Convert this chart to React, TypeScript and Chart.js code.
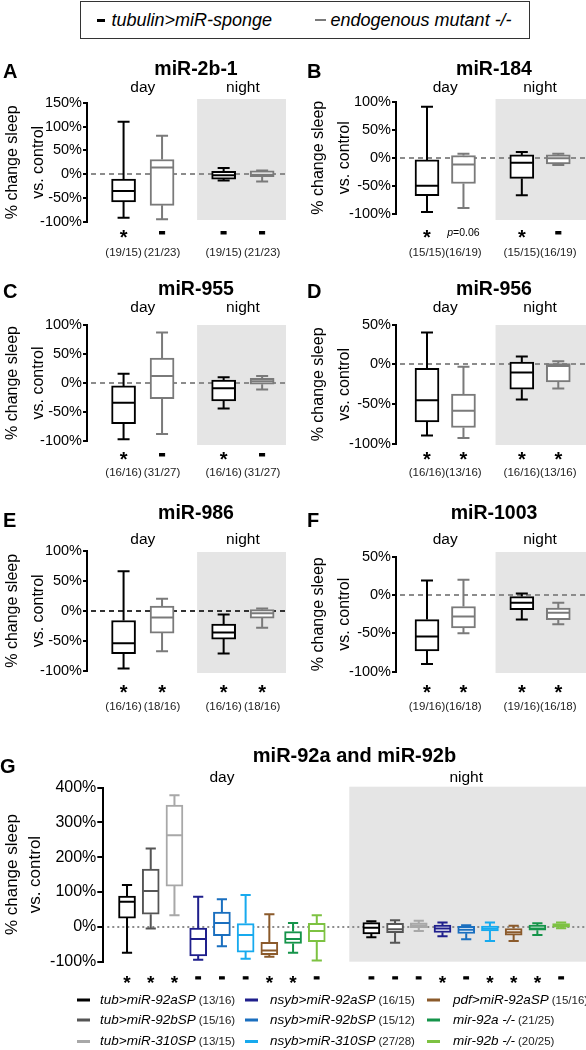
import { useEffect, useRef } from 'react';
import { Chart, registerables } from 'chart.js';

Chart.register(...registerables);

const FONT = '"Liberation Sans", Arial, Helvetica, sans-serif';
Chart.defaults.font.family = FONT;

// ---------------- DATA ----------------
const AF_GENOTYPES = ['tubulin>miR-sponge', 'endogenous mutant -/-'];
const PHASES = ['day', 'night'];
const SPONGE_COLOR = '#000000';
const MUTANT_COLOR = '#7a7a7a';
// Box order in panels A-F: day sponge, day mutant, night sponge, night mutant
// Each row: [min, q1, median, q3, max]  (% change sleep vs. control)
const A_STATS = [
  [-91, -58, -35, -10, 110],
  [-94, -65, 14, 31, 81],
  [-13, -10, -2, 6, 13],
  [-15, -5, -1, 7, 8],
];
const A_SIG = ['*', '-', '-', '-'];
const A_N = ['(19/15)', '(21/23)', '(19/15)', '(21/23)'];

const B_STATS = [
  [-97, -68, -50, -4, 91],
  [-90, -46, -12, 4, 7],
  [-67, -37, -9, 5, 10],
  [-13, -11, -1, 5, 7],
];
const B_SIG = ['*', 'p=0.06', '*', '-'];
const B_N = ['(15/15)', '(16/19)', '(15/15)', '(16/19)'];

const C_STATS = [
  [-97, -70, -34, -5, 16],
  [-88, -27, 12, 43, 87],
  [-44, -31, -9, 5, 10],
  [-11, -2, 3, 8, 12],
];
const C_SIG = ['*', '-', '*', '-'];
const C_N = ['(16/16)', '(31/27)', '(16/16)', '(31/27)'];

const D_STATS = [
  [-89, -72, -45, -5, 40],
  [-92, -79, -58, -37, -3],
  [-44, -31, -10, 3, 10],
  [-30, -22, -2, 1, 4],
];
const D_SIG = ['*', '*', '*', '*'];
const D_N = ['(16/16)', '(13/16)', '(16/16)', '(13/16)'];

const E_STATS = [
  [-96, -71, -54, -16, 66],
  [-67, -37, -11, 8, 20],
  [-71, -47, -36, -22, -6],
  [-28, -12, -4, 2, 4],
];
const E_SIG = ['*', '*', '*', '*'];
const E_N = ['(16/16)', '(18/16)', '(16/16)', '(18/16)'];

const F_STATS = [
  [-90, -73, -54, -32, 19],
  [-50, -43, -28, -15, 20],
  [-32, -19, -10, -2, 2],
  [-38, -32, -23, -17, -10],
];
const F_SIG = ['*', '*', '*', '*'];
const F_N = ['(19/16)', '(16/18)', '(19/16)', '(16/18)'];

const G_GENOTYPES = [
  'tub>miR-92aSP', 'tub>miR-92bSP', 'tub>miR-310SP',
  'nsyb>miR-92aSP', 'nsyb>miR-92bSP', 'nsyb>miR-310SP',
  'pdf>miR-92aSP', 'mir-92a -/-', 'mir-92b -/-',
];
const G_N = ['(13/16)', '(15/16)', '(13/15)', '(16/15)', '(15/12)', '(27/28)', '(15/16)', '(21/25)', '(20/25)'];
const G_COLORS = ['#000000', '#555555', '#a8a8a8', '#1f1f8c', '#1a6fbf', '#17aaee', '#8b5a2b', '#15944a', '#7dc242'];
const G_DAY_STATS = [
  [-75, 25, 72, 88, 120],
  [-5, 36, 103, 166, 225],
  [33, 117, 263, 350, 378],
  [-95, -84, -35, -4, 86],
  [-56, -26, 11, 42, 79],
  [-92, -73, -24, 9, 91],
  [-86, -80, -68, -45, 36],
  [-75, -48, -35, -14, 11],
  [-97, -43, -12, 10, 33],
];
const G_NIGHT_STATS = [
  [-30, -21, -3, 12, 16],
  [-46, -17, -7, 10, 19],
  [-12, -3, 4, 11, 17],
  [-27, -16, -5, 5, 12],
  [-36, -19, -9, 1, 4],
  [-41, -12, -6, 2, 12],
  [-41, -24, -16, -5, 3],
  [-24, -10, -5, 5, 10],
  [-4, -1, 5, 9, 12],
];
const G_DAY_SIG = ['*', '*', '*', '-', '-', '-', '*', '*', '-'];
const G_NIGHT_SIG = ['-', '-', '-', '*', '-', '*', '*', '*', '-'];

// ---------------- LAYOUT ----------------
const AF_SLOTS = [1, 2, 3.6, 4.6];
const G_SLOTS = [1, 2, 3, 4, 5, 6, 7, 8, 9, 11.3, 12.3, 13.3, 14.3, 15.3, 16.3, 17.3, 18.3, 19.3];

const LEFT = { left: 0, width: 296, axisX: 87, plotRight: 286, xMin: 0.05, xMax: 5.22, shadeFrom: 2.91, letterX: 3, titleX: 196 };
const RIGHT = { left: 306, width: 280, axisX: 396, plotRight: 586, xMin: 0.15, xMax: 5.36, shadeFrom: 2.88, letterX: 307, titleX: 494 };
const ROW1 = { top: 55, height: 210, letterY: 77.5, titleY: 74.5, phaseY: 92, shadeTop: 99, shadeBottom: 220, sigY: 233, nY: 253 };
const ROW2 = { top: 276, height: 205, letterY: 298, titleY: 295, phaseY: 312, shadeTop: 325, shadeBottom: 445, sigY: 455, nY: 473 };
const ROW3 = { top: 496, height: 222, letterY: 527, titleY: 519, phaseY: 544, shadeTop: 552, shadeBottom: 673, sigY: 688, nY: 707 };

type Spec = any;

function afPanel(letter: string, title: string, stats: number[][], sig: string[], n: string[], col: any, row: any,
  yMin: number, yMax: number, plotTop: number, plotBottom: number, zeroColor: string): Spec {
  return {
    letter, title, stats, sig, nLabels: n,
    colors: [SPONGE_COLOR, MUTANT_COLOR, SPONGE_COLOR, MUTANT_COLOR],
    positions: AF_SLOTS,
    groups: [[0, 1], [2, 3]],
    yMin, yMax, step: 50,
    canvas: { left: col.left, top: row.top, width: col.width, height: row.height },
    axisX: col.axisX, plotRight: col.plotRight, plotTop, plotBottom,
    xMin: col.xMin, xMax: col.xMax, shadeFrom: col.shadeFrom,
    shadeTop: row.shadeTop, shadeBottom: row.shadeBottom,
    letterX: col.letterX, letterY: row.letterY, titleX: col.titleX, titleY: row.titleY,
    phaseY: row.phaseY, sigY: row.sigY, nY: row.nY,
    zeroColor, zeroDash: [5, 4],
    barThickness: 24, capRatio: 0.5,
    tickSize: 14.5, tickLength: 4, axisTitleSize: 16, axisTitleLH: 1.6, axisTitlePad: 0,
    markerSize: 20, titleSize: 19.5, legend: false,
  };
}

const PANELS: Spec[] = [
  afPanel('A', 'miR-2b-1', A_STATS, A_SIG, A_N, LEFT, ROW1, -100, 150, 102.7, 222, '#8c8c8c'),
  afPanel('B', 'miR-184', B_STATS, B_SIG, B_N, RIGHT, ROW1, -100, 100, 101.7, 213.7, '#8c8c8c'),
  afPanel('C', 'miR-955', C_STATS, C_SIG, C_N, LEFT, ROW2, -100, 100, 325, 441, '#8c8c8c'),
  afPanel('D', 'miR-956', D_STATS, D_SIG, D_N, RIGHT, ROW2, -100, 50, 324.5, 444.3, '#8c8c8c'),
  afPanel('E', 'miR-986', E_STATS, E_SIG, E_N, LEFT, ROW3, -100, 100, 550.7, 671, '#333333'),
  afPanel('F', 'miR-1003', F_STATS, F_SIG, F_N, RIGHT, ROW3, -100, 50, 556.7, 671.7, '#8c8c8c'),
  {
    letter: 'G', title: 'miR-92a and miR-92b',
    stats: G_DAY_STATS.concat(G_NIGHT_STATS),
    sig: G_DAY_SIG.concat(G_NIGHT_SIG),
    nLabels: null,
    colors: G_COLORS.concat(G_COLORS),
    positions: G_SLOTS,
    groups: [[0, 8], [9, 17]],
    yMin: -100, yMax: 400, step: 100,
    canvas: { left: 0, top: 740, width: 586, height: 310 },
    axisX: 103.3, plotRight: 586, plotTop: 787.7, plotBottom: 961.5,
    xMin: 0, xMax: 20.35, shadeFrom: 10.37, shadeTop: 786.7, shadeBottom: 961.7,
    letterX: 0, letterY: 773, titleX: 354.5, titleY: 762,
    phaseY: 782, sigY: 978, nY: 0,
    zeroColor: '#8c8c8c', zeroDash: [2, 3],
    barThickness: 17, capRatio: 0.6,
    tickSize: 16, tickLength: 6, axisTitleSize: 17, axisTitleLH: 1.35, axisTitlePad: 1,
    markerSize: 19, titleSize: 20, legend: true,
  },
];

const G_LEGEND_COLS = [{ sw: 77, tx: 100 }, { sw: 245, tx: 270 }, { sw: 427, tx: 453 }];
const G_LEGEND_ROWS = [1000, 1020, 1041.5];

// ---------------- DRAWING ----------------
function drawMarker(ctx: CanvasRenderingContext2D, text: string, cx: number, cy: number, size: number) {
  ctx.fillStyle = '#000';
  ctx.strokeStyle = '#000';
  ctx.textBaseline = 'alphabetic';
  if (text === '*') {
    ctx.font = `bold ${size}px ${FONT}`;
    ctx.textAlign = 'center';
    ctx.fillText('*', cx, cy + 0.57 * size);
  } else if (text === '-') {
    ctx.font = `bold ${size}px ${FONT}`;
    ctx.textAlign = 'center';
    ctx.lineWidth = 1;
    ctx.fillText('-', cx, cy + 0.26 * size);
    ctx.strokeText('-', cx, cy + 0.26 * size);
  } else if (text.startsWith('p=')) {
    const s = 10.5;
    ctx.font = `italic ${s}px ${FONT}`;
    const w1 = ctx.measureText('p').width;
    ctx.font = `${s}px ${FONT}`;
    const rest = text.slice(1);
    const w2 = ctx.measureText(rest).width;
    const x0 = cx - (w1 + w2) / 2;
    ctx.textAlign = 'left';
    ctx.textBaseline = 'middle';
    ctx.font = `italic ${s}px ${FONT}`;
    ctx.fillText('p', x0, cy);
    ctx.font = `${s}px ${FONT}`;
    ctx.fillText(rest, x0 + w1, cy);
  }
}

function makePlugin(spec: Spec) {
  const ox = spec.canvas.left;
  const oy = spec.canvas.top;
  return {
    id: 'boxDecor' + spec.letter,
    beforeDatasetsDraw(chart: any) {
      const { ctx, chartArea, scales } = chart;
      const x = scales.x;
      const y = scales.y;
      ctx.save();
      const sx = x.getPixelForValue(spec.shadeFrom);
      ctx.fillStyle = '#e5e5e5';
      ctx.fillRect(sx, spec.shadeTop - oy, chartArea.right - sx, spec.shadeBottom - spec.shadeTop);
      const y0 = Math.round(y.getPixelForValue(0));
      ctx.strokeStyle = spec.zeroColor;
      ctx.lineWidth = 2;
      ctx.setLineDash(spec.zeroDash);
      ctx.beginPath();
      ctx.moveTo(chartArea.left + 4, y0);
      ctx.lineTo(chartArea.right, y0);
      ctx.stroke();
      ctx.restore();
    },
    afterDatasetsDraw(chart: any) {
      const { ctx, scales } = chart;
      const y = scales.y;
      const meta = chart.getDatasetMeta(0);
      ctx.save();
      ctx.lineWidth = 2;
      ctx.setLineDash([]);
      spec.stats.forEach((s: number[], i: number) => {
        const el = meta.data[i];
        const cx = el.x;
        const w = el.width;
        const [mn, q1, med, q3, mx] = s;
        const pMin = y.getPixelForValue(mn);
        const pQ1 = y.getPixelForValue(q1);
        const pMed = y.getPixelForValue(med);
        const pQ3 = y.getPixelForValue(q3);
        const pMax = y.getPixelForValue(mx);
        const cap = (w * spec.capRatio) / 2;
        ctx.strokeStyle = spec.colors[i];
        ctx.beginPath();
        ctx.moveTo(cx, pQ3);
        ctx.lineTo(cx, pMax);
        ctx.moveTo(cx - cap, pMax);
        ctx.lineTo(cx + cap, pMax);
        ctx.moveTo(cx, pQ1);
        ctx.lineTo(cx, pMin);
        ctx.moveTo(cx - cap, pMin);
        ctx.lineTo(cx + cap, pMin);
        ctx.moveTo(cx - w / 2 + 1, pMed);
        ctx.lineTo(cx + w / 2 - 1, pMed);
        ctx.stroke();
      });
      ctx.restore();
    },
    afterDraw(chart: any) {
      const { ctx, scales } = chart;
      const x = scales.x;
      const meta = chart.getDatasetMeta(0);
      ctx.save();
      ctx.fillStyle = '#000';
      // panel letter
      ctx.font = `bold 20px ${FONT}`;
      ctx.textAlign = 'left';
      ctx.textBaseline = 'alphabetic';
      ctx.fillText(spec.letter, spec.letterX - ox, spec.letterY - oy);
      // title
      ctx.font = `bold ${spec.titleSize}px ${FONT}`;
      ctx.textAlign = 'center';
      ctx.fillText(spec.title, spec.titleX - ox, spec.titleY - oy);
      // phase labels
      ctx.font = `15.5px ${FONT}`;
      spec.groups.forEach((g: number[], k: number) => {
        const c = (x.getPixelForValue(spec.positions[g[0]]) + x.getPixelForValue(spec.positions[g[1]])) / 2;
        ctx.fillText(PHASES[k], c, spec.phaseY - oy);
      });
      // significance markers and n labels
      spec.sig.forEach((t: string, i: number) => {
        const cx = meta.data[i].x;
        drawMarker(ctx, t, cx, spec.sigY - oy, spec.markerSize);
        if (spec.nLabels) {
          ctx.fillStyle = '#222';
          ctx.font = `11.5px ${FONT}`;
          ctx.textAlign = 'center';
          ctx.textBaseline = 'middle';
          ctx.fillText(spec.nLabels[i], cx, spec.nY - oy);
        }
      });
      // legend for G
      if (spec.legend) {
        G_GENOTYPES.forEach((name, i) => {
          const col = G_LEGEND_COLS[Math.floor(i / 3)];
          const cy = G_LEGEND_ROWS[i % 3] - oy;
          ctx.fillStyle = G_COLORS[i];
          ctx.fillRect(col.sw - ox, cy - 1.5, 13, 3);
          ctx.fillStyle = '#000';
          ctx.textAlign = 'left';
          ctx.textBaseline = 'middle';
          ctx.font = `italic 13.5px ${FONT}`;
          ctx.fillText(name, col.tx - ox, cy);
          const w = ctx.measureText(name).width;
          ctx.fillStyle = '#222';
          ctx.font = `11.5px ${FONT}`;
          ctx.fillText(G_N[i], col.tx - ox + w + 3, cy + 0.5);
        });
      }
      ctx.restore();
    },
  };
}

function BoxPanel({ spec }: { spec: Spec }) {
  const ref = useRef<HTMLCanvasElement | null>(null);
  useEffect(() => {
    const canvas = ref.current;
    if (!canvas) return;
    const c = spec.canvas;
    const yWidth = spec.axisX - c.left;
    const chart = new Chart(canvas, {
      type: 'bar',
      data: {
        datasets: [
          {
            data: spec.positions.map((p: number, i: number) => ({ x: p, y: [spec.stats[i][1], spec.stats[i][3]] })),
            backgroundColor: '#ffffff',
            borderColor: spec.colors,
            borderWidth: 2,
            borderSkipped: false,
            barThickness: spec.barThickness,
          } as any,
        ],
      },
      options: {
        responsive: false,
        animation: false,
        events: [],
        layout: {
          padding: {
            left: 0,
            right: c.left + c.width - spec.plotRight,
            top: spec.plotTop - c.top,
            bottom: c.top + c.height - spec.plotBottom,
          },
        },
        plugins: {
          legend: { display: false },
          tooltip: { enabled: false },
          title: { display: false },
        },
        scales: {
          x: { type: 'linear', min: spec.xMin, max: spec.xMax, display: false, offset: false },
          y: {
            type: 'linear',
            min: spec.yMin,
            max: spec.yMax,
            afterFit: (s: any) => {
              s.width = yWidth;
            },
            ticks: {
              stepSize: spec.step,
              color: '#000',
              padding: 1,
              autoSkip: false,
              font: { family: FONT, size: spec.tickSize },
              callback: (v: any) => `${v}%`,
            },
            grid: {
              display: true,
              drawOnChartArea: false,
              drawTicks: true,
              tickLength: spec.tickLength,
              tickWidth: 2,
              tickColor: '#000',
              color: '#000',
              lineWidth: 2,
            },
            border: { display: true, color: '#000', width: 2 },
            title: {
              display: true,
              text: ['% change sleep', 'vs. control'],
              color: '#000',
              font: { family: FONT, size: spec.axisTitleSize, lineHeight: spec.axisTitleLH },
              padding: { top: spec.axisTitlePad, bottom: 0 },
            },
          } as any,
        },
      } as any,
      plugins: [makePlugin(spec)],
    });
    return () => chart.destroy();
  }, [spec]);
  const c = spec.canvas;
  return (
    <canvas
      ref={ref}
      width={c.width}
      height={c.height}
      style={{ position: 'absolute', left: c.left, top: c.top, width: c.width, height: c.height }}
    />
  );
}

function TopLegend() {
  return (
    <div
      style={{
        position: 'absolute', left: 80, top: 1, width: 450, height: 38,
        border: '1.5px solid #333', boxSizing: 'border-box',
        fontFamily: FONT, fontStyle: 'italic', fontSize: 18, color: '#000',
      }}
    >
      <div style={{ position: 'absolute', left: 15.5, top: 16.5, width: 8, height: 3, background: SPONGE_COLOR }} />
      <span style={{ position: 'absolute', left: 30.5, top: 7.5, lineHeight: '20px', whiteSpace: 'nowrap' }}>{AF_GENOTYPES[0]}</span>
      <div style={{ position: 'absolute', left: 234, top: 16.5, width: 11, height: 2.5, background: MUTANT_COLOR }} />
      <span style={{ position: 'absolute', left: 249.5, top: 7.5, lineHeight: '20px', whiteSpace: 'nowrap' }}>{AF_GENOTYPES[1]}</span>
    </div>
  );
}

export default function App() {
  return (
    <div style={{ position: 'absolute', left: 0, top: 0, width: 586, height: 1050, background: '#fff', overflow: 'hidden' }}>
      <TopLegend />
      {PANELS.map((s) => (
        <BoxPanel key={s.letter} spec={s} />
      ))}
    </div>
  );
}
